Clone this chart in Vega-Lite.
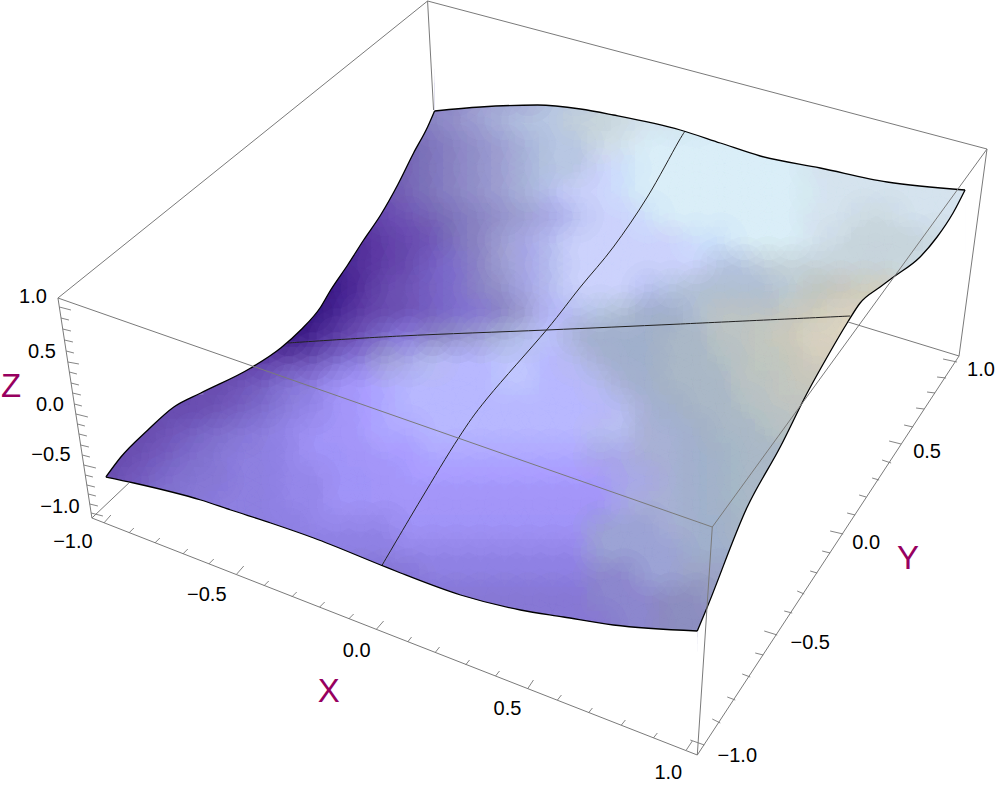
{"$schema":"https://vega.github.io/schema/vega-lite/v6.json","width":1000,"height":788,"autosize":{"type":"fit","contains":"padding"},"padding":0,"background":"white","config":{"view":{"stroke":null}},
"datasets":{
"cells":[
{"x":432,"y":96,"s":20},{"x":456,"y":96,"s":20},{"x":480,"y":96,"s":21},{"x":504,"y":96,"s":21},{"x":528,"y":96,"s":21},{"x":552,"y":96,"s":22},{"x":576,"y":96,"s":22},
{"x":408,"y":120,"s":20},{"x":432,"y":120,"s":20},{"x":456,"y":120,"s":20.5},{"x":480,"y":120,"s":21},{"x":504,"y":120,"s":21.5},{"x":528,"y":120,"s":22},{"x":552,"y":120,"s":22},{"x":576,"y":120,"s":12},{"x":600,"y":120,"s":12},{"x":624,"y":120,"s":11.5},{"x":648,"y":120,"s":11},{"x":672,"y":120,"s":11},{"x":696,"y":120,"s":10.5},
{"x":384,"y":144,"s":19},{"x":408,"y":144,"s":19},{"x":432,"y":144,"s":19.5},{"x":456,"y":144,"s":20},{"x":480,"y":144,"s":20.5},{"x":504,"y":144,"s":21},{"x":528,"y":144,"s":21.5},{"x":552,"y":144,"s":22},{"x":576,"y":144,"s":22},{"x":600,"y":144,"s":11.5},{"x":624,"y":144,"s":11},{"x":648,"y":144,"s":10},{"x":672,"y":144,"s":10},{"x":696,"y":144,"s":10},{"x":720,"y":144,"s":10},{"x":744,"y":144,"s":10},{"x":768,"y":144,"s":10},
{"x":384,"y":168,"s":3},{"x":408,"y":168,"s":19},{"x":432,"y":168,"s":19.5},{"x":456,"y":168,"s":20},{"x":480,"y":168,"s":20.5},{"x":504,"y":168,"s":21},{"x":528,"y":168,"s":21.5},{"x":552,"y":168,"s":22},{"x":576,"y":168,"s":22},{"x":600,"y":168,"s":9},{"x":624,"y":168,"s":9.5},{"x":648,"y":168,"s":10},{"x":672,"y":168,"s":10},{"x":696,"y":168,"s":10},{"x":720,"y":168,"s":10},{"x":744,"y":168,"s":10},{"x":768,"y":168,"s":10},{"x":792,"y":168,"s":10},{"x":816,"y":168,"s":11},{"x":840,"y":168,"s":11},{"x":864,"y":168,"s":11},{"x":888,"y":168,"s":11},
{"x":360,"y":192,"s":3},{"x":384,"y":192,"s":3},{"x":408,"y":192,"s":19},{"x":432,"y":192,"s":19.5},{"x":456,"y":192,"s":20},{"x":480,"y":192,"s":20.5},{"x":504,"y":192,"s":21},{"x":528,"y":192,"s":21.5},{"x":552,"y":192,"s":26},{"x":576,"y":192,"s":9},{"x":600,"y":192,"s":9},{"x":624,"y":192,"s":9.5},{"x":648,"y":192,"s":10},{"x":672,"y":192,"s":10},{"x":696,"y":192,"s":10},{"x":720,"y":192,"s":10},{"x":744,"y":192,"s":10},{"x":768,"y":192,"s":10},{"x":792,"y":192,"s":10},{"x":816,"y":192,"s":10.5},{"x":840,"y":192,"s":11},{"x":864,"y":192,"s":11},{"x":888,"y":192,"s":11},{"x":912,"y":192,"s":11},{"x":936,"y":192,"s":11},{"x":960,"y":192,"s":11},
{"x":360,"y":216,"s":2},{"x":384,"y":216,"s":2.5},{"x":408,"y":216,"s":3},{"x":432,"y":216,"s":19},{"x":456,"y":216,"s":19.5},{"x":480,"y":216,"s":20},{"x":504,"y":216,"s":20.5},{"x":528,"y":216,"s":21},{"x":552,"y":216,"s":25},{"x":576,"y":216,"s":26},{"x":600,"y":216,"s":9},{"x":624,"y":216,"s":9},{"x":648,"y":216,"s":9.5},{"x":672,"y":216,"s":10},{"x":696,"y":216,"s":10},{"x":720,"y":216,"s":10},{"x":744,"y":216,"s":10},{"x":768,"y":216,"s":10},{"x":792,"y":216,"s":10},{"x":816,"y":216,"s":11},{"x":840,"y":216,"s":11},{"x":864,"y":216,"s":11.5},{"x":888,"y":216,"s":11.5},{"x":912,"y":216,"s":11},{"x":936,"y":216,"s":11},{"x":960,"y":216,"s":11},
{"x":336,"y":240,"s":1},{"x":360,"y":240,"s":1.5},{"x":384,"y":240,"s":2},{"x":408,"y":240,"s":2.5},{"x":432,"y":240,"s":3},{"x":456,"y":240,"s":19.5},{"x":480,"y":240,"s":20},{"x":504,"y":240,"s":21},{"x":528,"y":240,"s":25},{"x":552,"y":240,"s":26},{"x":576,"y":240,"s":9},{"x":600,"y":240,"s":9},{"x":624,"y":240,"s":9},{"x":648,"y":240,"s":9},{"x":672,"y":240,"s":9},{"x":696,"y":240,"s":9.5},{"x":720,"y":240,"s":9.5},{"x":744,"y":240,"s":10},{"x":768,"y":240,"s":10},{"x":792,"y":240,"s":10},{"x":816,"y":240,"s":11},{"x":840,"y":240,"s":11.5},{"x":864,"y":240,"s":12},{"x":888,"y":240,"s":12},{"x":912,"y":240,"s":12},{"x":936,"y":240,"s":11.5},{"x":960,"y":240,"s":11},
{"x":336,"y":264,"s":1},{"x":360,"y":264,"s":1.5},{"x":384,"y":264,"s":2},{"x":408,"y":264,"s":2.5},{"x":432,"y":264,"s":3.5},{"x":456,"y":264,"s":4},{"x":480,"y":264,"s":20},{"x":504,"y":264,"s":21},{"x":528,"y":264,"s":25},{"x":552,"y":264,"s":26},{"x":576,"y":264,"s":9},{"x":600,"y":264,"s":9},{"x":624,"y":264,"s":9},{"x":648,"y":264,"s":9},{"x":672,"y":264,"s":9},{"x":696,"y":264,"s":9},{"x":720,"y":264,"s":22},{"x":744,"y":264,"s":22},{"x":768,"y":264,"s":12},{"x":792,"y":264,"s":12},{"x":816,"y":264,"s":12},{"x":840,"y":264,"s":12},{"x":864,"y":264,"s":12},{"x":888,"y":264,"s":12},{"x":912,"y":264,"s":11.5},{"x":936,"y":264,"s":11},
{"x":312,"y":288,"s":0},{"x":336,"y":288,"s":0.5},{"x":360,"y":288,"s":1.5},{"x":384,"y":288,"s":2.5},{"x":408,"y":288,"s":3},{"x":432,"y":288,"s":3.5},{"x":456,"y":288,"s":4},{"x":480,"y":288,"s":20},{"x":504,"y":288,"s":20.5},{"x":528,"y":288,"s":25},{"x":552,"y":288,"s":26},{"x":576,"y":288,"s":9},{"x":600,"y":288,"s":9},{"x":624,"y":288,"s":9},{"x":648,"y":288,"s":26},{"x":672,"y":288,"s":22},{"x":696,"y":288,"s":13},{"x":720,"y":288,"s":13},{"x":744,"y":288,"s":13},{"x":768,"y":288,"s":13},{"x":792,"y":288,"s":12.5},{"x":816,"y":288,"s":29.5},{"x":840,"y":288,"s":30},{"x":864,"y":288,"s":17},{"x":888,"y":288,"s":17.5},{"x":912,"y":288,"s":11.5},
{"x":288,"y":312,"s":0},{"x":312,"y":312,"s":0},{"x":336,"y":312,"s":1},{"x":360,"y":312,"s":2},{"x":384,"y":312,"s":2.5},{"x":408,"y":312,"s":3},{"x":432,"y":312,"s":3.5},{"x":456,"y":312,"s":4},{"x":480,"y":312,"s":4.5},{"x":504,"y":312,"s":20},{"x":528,"y":312,"s":21},{"x":552,"y":312,"s":8},{"x":576,"y":312,"s":26},{"x":600,"y":312,"s":22},{"x":624,"y":312,"s":13},{"x":648,"y":312,"s":27},{"x":672,"y":312,"s":27},{"x":696,"y":312,"s":13},{"x":720,"y":312,"s":29},{"x":744,"y":312,"s":29},{"x":768,"y":312,"s":29},{"x":792,"y":312,"s":30},{"x":816,"y":312,"s":17},{"x":840,"y":312,"s":18},{"x":864,"y":312,"s":18},
{"x":264,"y":336,"s":0.5},{"x":288,"y":336,"s":0},{"x":312,"y":336,"s":1},{"x":336,"y":336,"s":2},{"x":360,"y":336,"s":3},{"x":384,"y":336,"s":4},{"x":408,"y":336,"s":5},{"x":432,"y":336,"s":20},{"x":456,"y":336,"s":20.5},{"x":480,"y":336,"s":21},{"x":504,"y":336,"s":21.5},{"x":528,"y":336,"s":26},{"x":552,"y":336,"s":8.5},{"x":576,"y":336,"s":31},{"x":600,"y":336,"s":27},{"x":624,"y":336,"s":27},{"x":648,"y":336,"s":27},{"x":672,"y":336,"s":28},{"x":696,"y":336,"s":28},{"x":720,"y":336,"s":29},{"x":744,"y":336,"s":29},{"x":768,"y":336,"s":30},{"x":792,"y":336,"s":17},{"x":816,"y":336,"s":18},{"x":840,"y":336,"s":18},{"x":864,"y":336,"s":18},
{"x":240,"y":360,"s":2},{"x":264,"y":360,"s":2},{"x":288,"y":360,"s":2.5},{"x":312,"y":360,"s":3},{"x":336,"y":360,"s":4},{"x":360,"y":360,"s":5},{"x":384,"y":360,"s":21},{"x":408,"y":360,"s":25},{"x":432,"y":360,"s":26},{"x":456,"y":360,"s":8},{"x":480,"y":360,"s":8},{"x":504,"y":360,"s":8.5},{"x":528,"y":360,"s":8.5},{"x":552,"y":360,"s":8},{"x":576,"y":360,"s":26},{"x":600,"y":360,"s":31},{"x":624,"y":360,"s":27},{"x":648,"y":360,"s":27},{"x":672,"y":360,"s":28},{"x":696,"y":360,"s":28},{"x":720,"y":360,"s":28.5},{"x":744,"y":360,"s":29},{"x":768,"y":360,"s":29.5},{"x":792,"y":360,"s":30},{"x":816,"y":360,"s":17.5},{"x":840,"y":360,"s":17.5},
{"x":216,"y":384,"s":2.5},{"x":240,"y":384,"s":3},{"x":264,"y":384,"s":3.5},{"x":288,"y":384,"s":4.5},{"x":312,"y":384,"s":5},{"x":336,"y":384,"s":6},{"x":360,"y":384,"s":7},{"x":384,"y":384,"s":7.5},{"x":408,"y":384,"s":8},{"x":432,"y":384,"s":8},{"x":456,"y":384,"s":8},{"x":480,"y":384,"s":8},{"x":504,"y":384,"s":8.5},{"x":528,"y":384,"s":8.5},{"x":552,"y":384,"s":8},{"x":576,"y":384,"s":8},{"x":600,"y":384,"s":26},{"x":624,"y":384,"s":31},{"x":648,"y":384,"s":27},{"x":672,"y":384,"s":28},{"x":696,"y":384,"s":28},{"x":720,"y":384,"s":28},{"x":744,"y":384,"s":29},{"x":768,"y":384,"s":29},{"x":792,"y":384,"s":30},{"x":816,"y":384,"s":30},
{"x":168,"y":408,"s":2.5},{"x":192,"y":408,"s":2.5},{"x":216,"y":408,"s":3},{"x":240,"y":408,"s":3.5},{"x":264,"y":408,"s":4},{"x":288,"y":408,"s":5},{"x":312,"y":408,"s":5.5},{"x":336,"y":408,"s":6.5},{"x":360,"y":408,"s":7},{"x":384,"y":408,"s":7.5},{"x":408,"y":408,"s":8},{"x":432,"y":408,"s":8},{"x":456,"y":408,"s":8},{"x":480,"y":408,"s":8},{"x":504,"y":408,"s":8},{"x":528,"y":408,"s":8},{"x":552,"y":408,"s":8},{"x":576,"y":408,"s":8},{"x":600,"y":408,"s":8},{"x":624,"y":408,"s":26},{"x":648,"y":408,"s":31},{"x":672,"y":408,"s":27},{"x":696,"y":408,"s":28},{"x":720,"y":408,"s":28},{"x":744,"y":408,"s":28.5},{"x":768,"y":408,"s":29},{"x":792,"y":408,"s":29},{"x":816,"y":408,"s":30},
{"x":144,"y":432,"s":2.5},{"x":168,"y":432,"s":3},{"x":192,"y":432,"s":3.5},{"x":216,"y":432,"s":4},{"x":240,"y":432,"s":4.5},{"x":264,"y":432,"s":5},{"x":288,"y":432,"s":5.5},{"x":312,"y":432,"s":6},{"x":336,"y":432,"s":6.5},{"x":360,"y":432,"s":7},{"x":384,"y":432,"s":7.5},{"x":408,"y":432,"s":7.5},{"x":432,"y":432,"s":8},{"x":456,"y":432,"s":8},{"x":480,"y":432,"s":8},{"x":504,"y":432,"s":8},{"x":528,"y":432,"s":8},{"x":552,"y":432,"s":8},{"x":576,"y":432,"s":8},{"x":600,"y":432,"s":26},{"x":624,"y":432,"s":26},{"x":648,"y":432,"s":31},{"x":672,"y":432,"s":31},{"x":696,"y":432,"s":27},{"x":720,"y":432,"s":28},{"x":744,"y":432,"s":28},{"x":768,"y":432,"s":28.5},{"x":792,"y":432,"s":29},
{"x":120,"y":456,"s":2.5},{"x":144,"y":456,"s":3},{"x":168,"y":456,"s":3.5},{"x":192,"y":456,"s":4},{"x":216,"y":456,"s":4.5},{"x":240,"y":456,"s":5},{"x":264,"y":456,"s":5},{"x":288,"y":456,"s":5.5},{"x":312,"y":456,"s":6},{"x":336,"y":456,"s":6},{"x":360,"y":456,"s":6.5},{"x":384,"y":456,"s":7},{"x":408,"y":456,"s":7},{"x":432,"y":456,"s":7.5},{"x":456,"y":456,"s":7.5},{"x":480,"y":456,"s":7.5},{"x":504,"y":456,"s":7.5},{"x":528,"y":456,"s":7.5},{"x":552,"y":456,"s":7.5},{"x":576,"y":456,"s":7.5},{"x":600,"y":456,"s":25},{"x":624,"y":456,"s":25},{"x":648,"y":456,"s":31},{"x":672,"y":456,"s":31},{"x":696,"y":456,"s":27},{"x":720,"y":456,"s":27.5},{"x":744,"y":456,"s":28},{"x":768,"y":456,"s":28},{"x":792,"y":456,"s":28},
{"x":96,"y":480,"s":2.5},{"x":120,"y":480,"s":3},{"x":144,"y":480,"s":3.5},{"x":168,"y":480,"s":4},{"x":192,"y":480,"s":4.5},{"x":216,"y":480,"s":4.5},{"x":240,"y":480,"s":5},{"x":264,"y":480,"s":5},{"x":288,"y":480,"s":5.5},{"x":312,"y":480,"s":5.5},{"x":336,"y":480,"s":6},{"x":360,"y":480,"s":6},{"x":384,"y":480,"s":6.5},{"x":408,"y":480,"s":7},{"x":432,"y":480,"s":7},{"x":456,"y":480,"s":7},{"x":480,"y":480,"s":7},{"x":504,"y":480,"s":7},{"x":528,"y":480,"s":7},{"x":552,"y":480,"s":7},{"x":576,"y":480,"s":7},{"x":600,"y":480,"s":7},{"x":624,"y":480,"s":25},{"x":648,"y":480,"s":25},{"x":672,"y":480,"s":31},{"x":696,"y":480,"s":27},{"x":720,"y":480,"s":27.5},{"x":744,"y":480,"s":28},{"x":768,"y":480,"s":28},
{"x":168,"y":504,"s":4.5},{"x":192,"y":504,"s":4.5},{"x":216,"y":504,"s":5},{"x":240,"y":504,"s":5},{"x":264,"y":504,"s":5},{"x":288,"y":504,"s":5.5},{"x":312,"y":504,"s":5.5},{"x":336,"y":504,"s":6},{"x":360,"y":504,"s":6},{"x":384,"y":504,"s":6.5},{"x":408,"y":504,"s":6.5},{"x":432,"y":504,"s":6.5},{"x":456,"y":504,"s":6.5},{"x":480,"y":504,"s":6.5},{"x":504,"y":504,"s":6.5},{"x":528,"y":504,"s":6.5},{"x":552,"y":504,"s":6.5},{"x":576,"y":504,"s":6.5},{"x":600,"y":504,"s":6},{"x":624,"y":504,"s":25},{"x":648,"y":504,"s":31},{"x":672,"y":504,"s":31},{"x":696,"y":504,"s":27},{"x":720,"y":504,"s":27.5},{"x":744,"y":504,"s":28},
{"x":240,"y":528,"s":5},{"x":264,"y":528,"s":5},{"x":288,"y":528,"s":5},{"x":312,"y":528,"s":5.5},{"x":336,"y":528,"s":5.5},{"x":360,"y":528,"s":5.5},{"x":384,"y":528,"s":5.5},{"x":408,"y":528,"s":6},{"x":432,"y":528,"s":6},{"x":456,"y":528,"s":6},{"x":480,"y":528,"s":6},{"x":504,"y":528,"s":6},{"x":528,"y":528,"s":6},{"x":552,"y":528,"s":6},{"x":576,"y":528,"s":6},{"x":600,"y":528,"s":32},{"x":624,"y":528,"s":32},{"x":648,"y":528,"s":32},{"x":672,"y":528,"s":31},{"x":696,"y":528,"s":27},{"x":720,"y":528,"s":27},{"x":744,"y":528,"s":28},
{"x":312,"y":552,"s":5},{"x":336,"y":552,"s":5},{"x":360,"y":552,"s":5},{"x":384,"y":552,"s":5},{"x":408,"y":552,"s":5.5},{"x":432,"y":552,"s":5.5},{"x":456,"y":552,"s":5.5},{"x":480,"y":552,"s":5.5},{"x":504,"y":552,"s":5.5},{"x":528,"y":552,"s":5.5},{"x":552,"y":552,"s":5.5},{"x":576,"y":552,"s":5.5},{"x":600,"y":552,"s":32},{"x":624,"y":552,"s":32},{"x":648,"y":552,"s":32},{"x":672,"y":552,"s":32},{"x":696,"y":552,"s":27},{"x":720,"y":552,"s":27},
{"x":360,"y":576,"s":4.5},{"x":384,"y":576,"s":4.5},{"x":408,"y":576,"s":4.5},{"x":432,"y":576,"s":5},{"x":456,"y":576,"s":5},{"x":480,"y":576,"s":5},{"x":504,"y":576,"s":5},{"x":528,"y":576,"s":5},{"x":552,"y":576,"s":5},{"x":576,"y":576,"s":5},{"x":600,"y":576,"s":33},{"x":624,"y":576,"s":33},{"x":648,"y":576,"s":32},{"x":672,"y":576,"s":32},{"x":696,"y":576,"s":23},{"x":720,"y":576,"s":23},
{"x":432,"y":600,"s":4.5},{"x":456,"y":600,"s":4.5},{"x":480,"y":600,"s":4.5},{"x":504,"y":600,"s":4.5},{"x":528,"y":600,"s":4.5},{"x":552,"y":600,"s":4.5},{"x":576,"y":600,"s":4.5},{"x":600,"y":600,"s":33},{"x":624,"y":600,"s":33},{"x":648,"y":600,"s":33},{"x":672,"y":600,"s":24},{"x":696,"y":600,"s":24},{"x":720,"y":600,"s":23},
{"x":528,"y":624,"s":4.5},{"x":552,"y":624,"s":4.5},{"x":576,"y":624,"s":4.5},{"x":600,"y":624,"s":4.5},{"x":624,"y":624,"s":33},{"x":648,"y":624,"s":33},{"x":672,"y":624,"s":24},{"x":696,"y":624,"s":24}
],
"maskTop":[{"k":"p","x":0,"y":477},{"k":"p","x":106,"y":477},
{"k":"l","x":105,"y":477},{"k":"l","x":120,"y":457},{"k":"l","x":147,"y":430},{"k":"l","x":173,"y":407},{"k":"l","x":200,"y":393},{"k":"l","x":250,"y":368},{"k":"l","x":280,"y":348},{"k":"l","x":300,"y":330},{"k":"l","x":320,"y":307},{"k":"l","x":330,"y":290},{"k":"l","x":347,"y":265},{"k":"l","x":363,"y":240},{"k":"l","x":380,"y":215},{"k":"l","x":397,"y":185},{"k":"l","x":413,"y":153},{"k":"l","x":427,"y":127},{"k":"l","x":434,"y":111},
{"k":"t","x":434,"y":111},{"k":"t","x":480,"y":107},{"k":"t","x":537,"y":105},{"k":"t","x":580,"y":109},{"k":"t","x":613,"y":115},{"k":"t","x":680,"y":130},{"k":"t","x":720,"y":143},{"k":"t","x":760,"y":156},{"k":"t","x":820,"y":168},{"k":"t","x":887,"y":182},{"k":"t","x":965,"y":190},
{"k":"q","x":965,"y":190},{"k":"q","x":1000,"y":190}],
"maskBottom":[{"k":"p","x":0,"y":477},{"k":"p","x":106,"y":477},
{"k":"b","x":105,"y":477},{"k":"b","x":133,"y":483},{"k":"b","x":200,"y":500},{"k":"b","x":230,"y":510},{"k":"b","x":270,"y":523},{"k":"b","x":313,"y":538},{"k":"b","x":380,"y":565},{"k":"b","x":400,"y":573},{"k":"b","x":460,"y":595},{"k":"b","x":520,"y":610},{"k":"b","x":563,"y":617},{"k":"b","x":613,"y":625},{"k":"b","x":697,"y":631},
{"k":"r","x":697,"y":631},{"k":"r","x":707,"y":607},{"k":"r","x":747,"y":507},{"k":"r","x":780,"y":447},{"k":"r","x":807,"y":393},{"k":"r","x":827,"y":357},{"k":"r","x":847,"y":323},{"k":"r","x":860,"y":303},{"k":"r","x":880,"y":287},{"k":"r","x":892,"y":278},{"k":"r","x":920,"y":257},{"k":"r","x":937,"y":237},{"k":"r","x":953,"y":213},{"k":"r","x":965,"y":190},
{"k":"q","x":965,"y":190},{"k":"q","x":1000,"y":190}],
"mesh":[{"k":"u","i":0,"x":685,"y":131},{"k":"u","i":1,"x":678,"y":142},{"k":"u","i":2,"x":647,"y":197},{"k":"u","i":3,"x":613,"y":247},{"k":"u","i":4,"x":580,"y":287},{"k":"u","i":5,"x":546,"y":330},{"k":"u","i":6,"x":487,"y":398},{"k":"u","i":7,"x":458,"y":438},{"k":"u","i":8,"x":420,"y":500},{"k":"u","i":9,"x":381,"y":566},{"k":"v","i":0,"x":287,"y":343},{"k":"v","i":1,"x":400,"y":336},{"k":"v","i":2,"x":546,"y":330},{"k":"v","i":3,"x":680,"y":324},{"k":"v","i":4,"x":850,"y":316}],
"box":[{"x":57,"y":298,"x2":427,"y2":1},{"x":427,"y":1,"x2":987,"y2":149},{"x":987,"y":149,"x2":712,"y2":527},{"x":712,"y":527,"x2":57,"y2":298},{"x":57,"y":298,"x2":91,"y2":518},{"x":712,"y":527,"x2":697,"y2":755},{"x":987,"y":149,"x2":959,"y2":356},{"x":427,"y":1,"x2":433,"y2":110},{"x":91,"y":518,"x2":697,"y2":755},{"x":697,"y":755,"x2":959,"y2":356},{"x":959,"y":356,"x2":848,"y2":322},{"x":91,"y":518,"x2":128,"y2":483}],
"ticks":[{"x":103,"y":523,"x2":110,"y2":515},{"x":128,"y":533,"x2":133,"y2":528},{"x":154,"y":543,"x2":159,"y2":538},{"x":182,"y":554,"x2":187,"y2":549},{"x":208,"y":564,"x2":213,"y2":559},{"x":236,"y":574,"x2":243,"y2":566},{"x":263,"y":586,"x2":268,"y2":581},{"x":291,"y":597,"x2":296,"y2":592},{"x":319,"y":607,"x2":324,"y2":602},{"x":348,"y":619,"x2":353,"y2":614},{"x":376,"y":629,"x2":383,"y2":621},{"x":407,"y":642,"x2":411,"y2":637},{"x":435,"y":652,"x2":439,"y2":647},{"x":465,"y":665,"x2":469,"y2":660},{"x":495,"y":676,"x2":499,"y2":671},{"x":527,"y":689,"x2":533,"y2":680},{"x":557,"y":700,"x2":561,"y2":695},{"x":588,"y":713,"x2":592,"y2":708},{"x":621,"y":725,"x2":625,"y2":720},{"x":653,"y":738,"x2":657,"y2":733},{"x":686,"y":750,"x2":692,"y2":741},
{"x":704,"y":745,"x2":690,"y2":740},{"x":720,"y":723,"x2":712,"y2":719},{"x":735,"y":700,"x2":727,"y2":697},{"x":750,"y":677,"x2":742,"y2":674},{"x":763,"y":655,"x2":755,"y2":653},{"x":777,"y":635,"x2":764,"y2":631},{"x":792,"y":613,"x2":784,"y2":611},{"x":804,"y":594,"x2":797,"y2":591},{"x":817,"y":573,"x2":810,"y2":571},{"x":830,"y":553,"x2":822,"y2":551},{"x":843,"y":534,"x2":830,"y2":531},{"x":855,"y":515,"x2":847,"y2":513},{"x":866,"y":497,"x2":859,"y2":495},{"x":879,"y":480,"x2":872,"y2":478},{"x":891,"y":463,"x2":882,"y2":460},{"x":901,"y":444,"x2":889,"y2":441},{"x":913,"y":427,"x2":904,"y2":425},{"x":924,"y":409,"x2":916,"y2":408},{"x":935,"y":393,"x2":927,"y2":392},{"x":946,"y":378,"x2":937,"y2":377},{"x":957,"y":362,"x2":943,"y2":359},
{"x":58.4,"y":307,"x2":70,"y2":310},{"x":60,"y":318,"x2":68,"y2":320},{"x":61.8,"y":329,"x2":70,"y2":331},{"x":63.5,"y":340,"x2":72,"y2":342},{"x":65.2,"y":351,"x2":73,"y2":353},{"x":66.9,"y":362,"x2":78,"y2":364},{"x":68.4,"y":372,"x2":76,"y2":374},{"x":70.1,"y":383,"x2":78,"y2":385},{"x":71.7,"y":393,"x2":80,"y2":395},{"x":73.4,"y":404,"x2":81,"y2":406},{"x":74.9,"y":414,"x2":87,"y2":417},{"x":76.5,"y":424,"x2":84,"y2":426},{"x":78,"y":434,"x2":86,"y2":436},{"x":79.7,"y":445,"x2":88,"y2":447},{"x":81.3,"y":455,"x2":89,"y2":457},{"x":82.8,"y":465,"x2":95,"y2":468},{"x":84.3,"y":475,"x2":92,"y2":477},{"x":85.9,"y":485,"x2":94,"y2":487},{"x":87.3,"y":494,"x2":95,"y2":496},{"x":88.8,"y":504,"x2":97,"y2":506},{"x":90.2,"y":513,"x2":102,"y2":516}],
"labels":[{"x":32,"y":297,"t":"1.0"},{"x":41,"y":352,"t":"0.5"},{"x":49,"y":405,"t":"0.0"},{"x":50,"y":455,"t":"−0.5"},{"x":59,"y":507,"t":"−1.0"},{"x":72,"y":542,"t":"−1.0"},{"x":206,"y":595,"t":"−0.5"},{"x":356,"y":651,"t":"0.0"},{"x":507,"y":709,"t":"0.5"},{"x":668,"y":773,"t":"1.0"},{"x":737,"y":756,"t":"−1.0"},{"x":810,"y":643,"t":"−0.5"},{"x":866,"y":543,"t":"0.0"},{"x":927,"y":452,"t":"0.5"},{"x":981,"y":370,"t":"1.0"}],
"titles":[{"x":10,"y":387,"t":"Z"},{"x":328,"y":692,"t":"X"},{"x":908,"y":559,"t":"Y"}]
},
"encoding":{"x":{"field":"x","type":"quantitative","axis":null,"scale":{"domain":[0,1000],"nice":false,"zero":false}},"y":{"field":"y","type":"quantitative","axis":null,"scale":{"domain":[0,788],"reverse":true,"nice":false,"zero":false}}},
"layer":[
{"data":{"name":"cells"},"mark":{"type":"square","size":700,"opacity":1},"encoding":{"color":{"field":"s","type":"quantitative","legend":null,"scale":{"domain":[0,1,2,3,4,5,6,7,8,9,10,11,12,13,14,15,16,17,18,19,20,21,22,23,24,25,26,27,28,29,30,31,32,33],"range":["#3a1480","#4a2a96","#6040a8","#7058b8","#8070d0","#9080e0","#a094f8","#a89cff","#b8baff","#ccd2fc","#daeefa","#d6e6ee","#c8d4dc","#b4c2d4","#a4b2c8","#a8b0b8","#bcbcb8","#d0ccbc","#dcd4c0","#7a68b5","#8c88c4","#a0a4d4","#b8c8e4","#9aa6c4","#8c90c0","#a8a8e8","#b8c0f2","#a0b0cc","#acbac8","#bcc4c4","#c8c8bc","#a8b4d8","#9ca4d8","#8c88d0"]}}}},
{"data":{"name":"cells"},"mark":{"type":"circle","size":3000,"opacity":0.14,"clip":true},"encoding":{"color":{"field":"s","type":"quantitative","legend":null}}},
{"data":{"name":"cells"},"mark":{"type":"circle","size":3000,"opacity":0.14,"clip":true},"encoding":{"color":{"field":"s","type":"quantitative","legend":null},"order":{"field":"y","type":"quantitative","sort":"descending"}}},
{"data":{"name":"cells"},"mark":{"type":"circle","size":1600,"opacity":0.14,"clip":true},"encoding":{"color":{"field":"s","type":"quantitative","legend":null}}},
{"data":{"name":"cells"},"mark":{"type":"circle","size":1600,"opacity":0.14,"clip":true},"encoding":{"color":{"field":"s","type":"quantitative","legend":null},"order":{"field":"y","type":"quantitative","sort":"descending"}}},
{"data":{"name":"maskTop"},"mark":{"type":"area","color":"white","opacity":1,"interpolate":"monotone"},"encoding":{"detail":{"field":"k"},"y2":{"datum":0}}},
{"data":{"name":"maskBottom"},"mark":{"type":"area","color":"white","opacity":1,"interpolate":"monotone"},"encoding":{"detail":{"field":"k"},"y2":{"datum":788}}},
{"data":{"name":"mesh"},"mark":{"type":"line","color":"#222222","strokeWidth":1,"interpolate":"cardinal"},"encoding":{"detail":{"field":"k"},"order":{"field":"i","type":"quantitative"}}},
{"data":{"name":"maskTop"},"transform":[{"filter":"datum.k=='l'||datum.k=='t'"}],"mark":{"type":"line","color":"#000000","strokeWidth":1.3,"interpolate":"monotone"},"encoding":{"detail":{"field":"k"}}},
{"data":{"name":"maskBottom"},"transform":[{"filter":"datum.k=='b'||datum.k=='r'"}],"mark":{"type":"line","color":"#000000","strokeWidth":1.3,"interpolate":"monotone"},"encoding":{"detail":{"field":"k"}}},
{"data":{"name":"box"},"mark":{"type":"rule","color":"#7a7a7a","strokeWidth":1},"encoding":{"x2":{"field":"x2"},"y2":{"field":"y2"}}},
{"data":{"name":"ticks"},"mark":{"type":"rule","color":"#777777","strokeWidth":0.9},"encoding":{"x2":{"field":"x2"},"y2":{"field":"y2"}}},
{"data":{"name":"labels"},"mark":{"type":"text","font":"Liberation Sans","fontSize":20,"color":"#000000","align":"center","baseline":"middle"},"encoding":{"text":{"field":"t"}}},
{"data":{"name":"titles"},"mark":{"type":"text","font":"Liberation Sans","fontSize":33,"color":"#97005f","align":"center","baseline":"middle"},"encoding":{"text":{"field":"t"}}}
]}
